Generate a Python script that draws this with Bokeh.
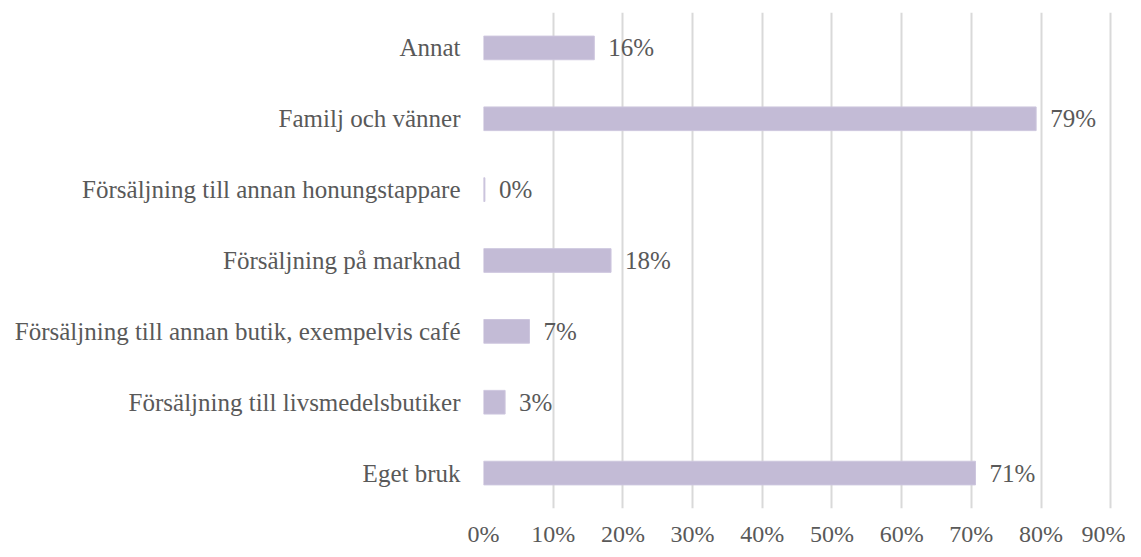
from bokeh.plotting import figure
from bokeh.models import ColumnDataSource, FixedTicker, PrintfTickFormatter, Range1d, FactorRange
from bokeh.core.properties import value
from bokeh.embed import file_html
from bokeh.resources import INLINE

categories = ["Eget bruk", "Försäljning till livsmedelsbutiker",
              "Försäljning till annan butik, exempelvis café", "Försäljning på marknad",
              "Försäljning till annan honungstappare", "Familj och vänner", "Annat"]
values = [70.6, 3.1, 6.6, 18.3, 0.2, 79.3, 15.9]
labels = ["71%", "3%", "7%", "18%", "0%", "79%", "16%"]
x_ticks = [0, 10, 20, 30, 40, 50, 60, 70, 80, 90]

FONT = "Liberation Serif"
TXT = "#595959"

src = ColumnDataSource(dict(cat=categories, val=values, lab=labels))

p = figure(width=1125, height=549, output_backend="svg", toolbar_location=None,
           y_range=FactorRange(*categories, range_padding=0.0),
           x_range=Range1d(0, 90.4),
           min_border_left=483, min_border_right=12, min_border_top=12, min_border_bottom=30)
p.outline_line_color = None
p.background_fill_color = "white"

p.hbar(y="cat", right="val", left=0, height=0.334, source=src,
       fill_color="#c3bbd6", line_color="#cdc6de", line_width=1)
p.text(x="val", y="cat", text="lab", source=src, x_offset=14,
       text_baseline="middle", text_align="left", text_color=TXT,
       text_font=value(FONT), text_font_size="25px")

p.xaxis.ticker = FixedTicker(ticks=x_ticks)
p.xaxis.formatter = PrintfTickFormatter(format="%d%%")
p.xaxis.axis_line_color = None
p.xaxis.major_tick_line_color = None
p.xaxis.minor_tick_line_color = None
p.xaxis.major_label_text_font = FONT
p.xaxis.major_label_text_font_size = "24px"
p.xaxis.major_label_text_color = TXT
p.xaxis.major_label_standoff = 6

p.yaxis.axis_line_color = None
p.yaxis.major_tick_line_color = None
p.yaxis.minor_tick_line_color = None
p.yaxis.major_label_text_font = FONT
p.yaxis.major_label_text_font_size = "25px"
p.yaxis.major_label_text_color = TXT
p.yaxis.major_label_standoff = 17

p.xgrid.grid_line_color = "#d9d9d9"
p.xgrid.grid_line_width = 2
p.ygrid.grid_line_color = None

open("out.html", "w").write(file_html(p, INLINE))
